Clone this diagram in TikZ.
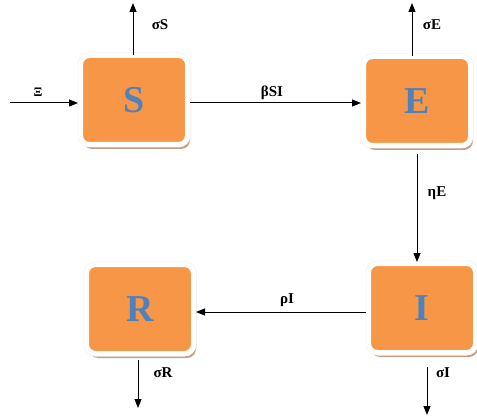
\documentclass[tikz,border=0pt]{standalone}
\usepackage{fontspec}
\setmainfont{Liberation Serif}
\usetikzlibrary{arrows.meta,shadows}
\definecolor{boxfill}{HTML}{F79646}
\definecolor{boxtext}{HTML}{4F81BD}
\definecolor{boxshade}{HTML}{C99E7E}
\definecolor{boxrim}{HTML}{EDEDED}
\tikzset{
  compartment/.style={
    rectangle, rounded corners=9pt, minimum width=107pt, minimum height=89pt,
    fill=boxfill, draw=white, line width=5pt,
    general shadow={fill=boxshade, shadow xshift=2.5pt, shadow yshift=-4.5pt},
    preaction={draw=boxrim, line width=6pt},
    text=boxtext, font=\bfseries\fontsize{38}{38}\selectfont, inner sep=0pt},
  flow/.style={line width=1pt, -{Triangle[length=9pt,width=7pt]}},
  rate/.style={font=\bfseries\fontsize{15}{15}\selectfont, inner sep=0pt}
}
\begin{document}
\begin{tikzpicture}[x=1pt,y=-1pt]
\useasboundingbox (0,0) rectangle (477,417);

% compartments
\node[compartment] (S) at (134,100) {S};
\node[compartment] (E) at (417,101) {E};
\node[compartment] (I) at (422,308) {I};
\node[compartment] (R) at (140,309) {R};

% free ends of the outflows and inflow
\coordinate (xin) at (10,103);
\coordinate (sout) at (133,3);
\coordinate (eout) at (412,3);
\coordinate (rout) at (138,408);
\coordinate (iout) at (427,415);

% inflow and transitions
\draw[flow] (xin) -- (xin -| S.west);
\draw[flow] (S.east |- xin) -- (E.west |- xin);
\draw[flow, shorten <=6pt, shorten >=-1pt] (E.south -| 417,0) -- (I.north -| 417,0);
\draw[flow] (I.west |- 0,312) -- (R.east |- 0,312);

% outflows
\draw[flow, shorten <=-2pt] (sout |- S.north) -- (sout);
\draw[flow, shorten <=-2pt] (eout |- E.north) -- (eout);
\draw[flow, shorten <=4pt] (rout |- R.south) -- (rout);
\draw[flow, shorten <=12pt] (iout |- I.south) -- (iout);

% rate labels
\node[rate, font=\bfseries\fontsize{13}{13}\selectfont] (lx) at (38,92) {Ξ};
\node[rate] (ls) at (160,25) {σS};
\node[rate] (lb) at (272,93) {βSI};
\node[rate] (le) at (432,25) {σE};
\node[rate] (ln) at (437,193) {ηE};
\node[rate] (lr) at (287,300) {ρI};
\node[rate] (lsr) at (163,373) {σR};
\node[rate] (lsi) at (443,373) {σI};
\end{tikzpicture}
\end{document}
